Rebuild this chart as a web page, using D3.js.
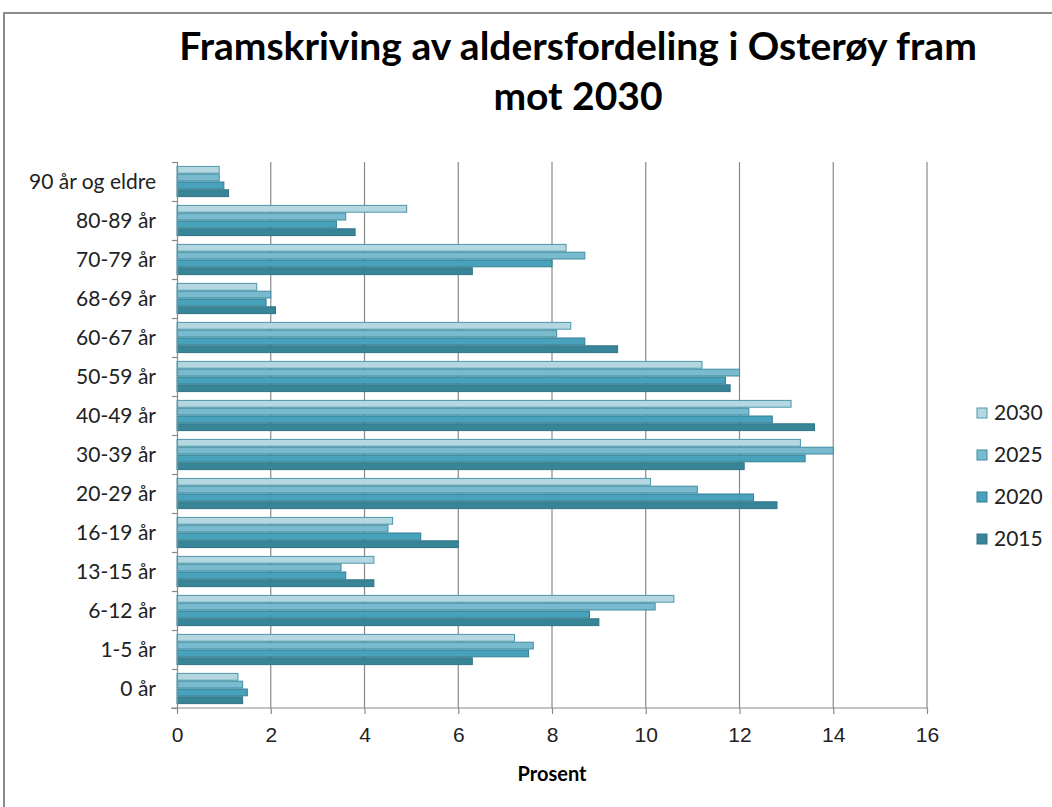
<!DOCTYPE html>
<html lang="no">
  <head>
    <meta charset="UTF-8" />
    <title>Framskriving av aldersfordeling i Osterøy</title>
    <script src="https://d3js.org/d3.v7.min.js"></script>
    <style>
      body {
        margin: 0;
        background: white;
        font-family: Lato, "Open Sans", sans-serif;
      }
      .frame {
        fill: none;
        stroke: #8c8c8c;
        stroke-width: 2px;
      }
      .title {
        font-size: 39px;
        font-weight: bold;
        fill: #000;
      }
      .cat-label,
      .legend-label {
        font-size: 21px;
        fill: #222;
      }
      .tick-label {
        font-size: 21px;
        fill: #222;
      }
      .axis-title {
        font-size: 20px;
        font-weight: bold;
      }
    </style>
  </head>
  <body>
    <div id="chart"></div>
    <script>
      const categories = [
        "90 år og eldre",
        "80-89 år",
        "70-79 år",
        "68-69 år",
        "60-67 år",
        "50-59 år",
        "40-49 år",
        "30-39 år",
        "20-29 år",
        "16-19 år",
        "13-15 år",
        "6-12 år",
        "1-5 år",
        "0 år",
      ];
      const years = ["2030", "2025", "2020", "2015"];
      const values2030 = [0.9, 4.9, 8.3, 1.7, 8.4, 11.2, 13.1, 13.3, 10.1, 4.6, 4.2, 10.6, 7.2, 1.3];
      const values2025 = [0.9, 3.6, 8.7, 2.0, 8.1, 12.0, 12.2, 14.0, 11.1, 4.5, 3.5, 10.2, 7.6, 1.4];
      const values2020 = [1.0, 3.4, 8.0, 1.9, 8.7, 11.7, 12.7, 13.4, 12.3, 5.2, 3.6, 8.8, 7.5, 1.5];
      const values2015 = [1.1, 3.8, 6.3, 2.1, 9.4, 11.8, 13.6, 12.1, 12.8, 6.0, 4.2, 9.0, 6.3, 1.4];
      const xTicks = [0, 2, 4, 6, 8, 10, 12, 14, 16];

      const seriesValues = {
        2030: values2030,
        2025: values2025,
        2020: values2020,
        2015: values2015,
      };
      const fills = {
        2030: "#b5d7e2",
        2025: "#79bace",
        2020: "#48a2bb",
        2015: "#378597",
      };
      const strokes = {
        2030: "#4d97aa",
        2025: "#3e8da2",
        2020: "#337f93",
        2015: "#2f7486",
      };

      const W = 1052;
      const H = 807;
      const plot = { left: 177, right: 927, top: 162, bottom: 708 };

      const svg = d3
        .select("#chart")
        .append("svg")
        .attr("width", W)
        .attr("height", H);

      svg
        .append("rect")
        .attr("class", "frame")
        .attr("x", 4)
        .attr("y", 13)
        .attr("width", W + 10)
        .attr("height", H + 10);

      const title = svg
        .append("text")
        .attr("class", "title")
        .attr("text-anchor", "middle");
      title
        .append("tspan")
        .attr("x", 578)
        .attr("y", 60)
        .text("Framskriving av aldersfordeling i Osterøy fram");
      title.append("tspan").attr("x", 578).attr("y", 110).text("mot 2030");

      const x = d3.scaleLinear().domain([0, 16]).range([plot.left, plot.right]);
      const y = d3
        .scaleBand()
        .domain(categories)
        .range([plot.top, plot.bottom])
        .paddingInner(0.2)
        .paddingOuter(0.1);
      const ySub = d3.scaleBand().domain(years).range([0, y.bandwidth()]);

      // gridlines
      svg
        .append("g")
        .selectAll("line")
        .data(xTicks.filter((t) => t > 0))
        .join("line")
        .attr("x1", (d) => x(d))
        .attr("x2", (d) => x(d))
        .attr("y1", plot.top)
        .attr("y2", plot.bottom)
        .attr("stroke", "#8a8a8a")
        .attr("stroke-width", 1.2);

      // bars
      const groups = svg
        .append("g")
        .selectAll("g")
        .data(categories)
        .join("g")
        .attr("transform", (d) => `translate(0,${y(d)})`);

      groups
        .selectAll("rect")
        .data((c, i) => years.map((yr) => ({ yr, v: seriesValues[yr][i] })))
        .join("rect")
        .attr("x", x(0))
        .attr("y", (d) => ySub(d.yr) + 0.5)
        .attr("width", (d) => x(d.v) - x(0))
        .attr("height", ySub.bandwidth() - 1)
        .attr("fill", (d) => fills[d.yr])
        .attr("stroke", (d) => strokes[d.yr])
        .attr("stroke-width", 1);

      // y axis
      const yAxis = svg
        .append("g")
        .attr("transform", `translate(${plot.left},0)`)
        .call(
          d3
            .axisLeft(d3.scaleLinear().domain([0, categories.length]).range([plot.top, plot.bottom]))
            .tickValues(d3.range(categories.length + 1))
            .tickSize(5)
            .tickFormat("")
        );
      yAxis.select(".domain").attr("stroke", "#8a8a8a").attr("stroke-width", 1.2);
      yAxis.selectAll(".tick line").attr("stroke", "#8a8a8a").attr("stroke-width", 1.2);

      svg
        .append("g")
        .selectAll("text")
        .data(categories)
        .join("text")
        .attr("class", "cat-label")
        .attr("x", 156)
        .attr("y", (d) => y(d) + y.bandwidth() / 2)
        .attr("dy", "0.35em")
        .attr("text-anchor", "end")
        .text((d) => d);

      // x axis
      const xAxis = svg
        .append("g")
        .attr("transform", `translate(0,${plot.bottom})`)
        .call(
          d3
            .axisBottom(x)
            .tickValues(xTicks)
            .tickSize(6)
            .tickSizeOuter(0)
            .tickPadding(13)
            .tickFormat(d3.format("d"))
        );
      xAxis
        .select(".domain")
        .attr("stroke", "#8a8a8a")
        .attr("stroke-width", 1.2)
        .attr("d", `M${plot.left - 6},0H${plot.right}`);
      xAxis.selectAll(".tick line").attr("stroke", "#8a8a8a").attr("stroke-width", 1.2);
      xAxis
        .selectAll(".tick text")
        .attr("class", "tick-label")
        .attr("font-family", null)
        .attr("font-size", null);

      svg
        .append("text")
        .attr("class", "axis-title")
        .attr("x", 552)
        .attr("y", 781)
        .attr("text-anchor", "middle")
        .text("Prosent");

      // legend
      const legend = svg
        .append("g")
        .selectAll("g")
        .data(years)
        .join("g")
        .attr("transform", (d, i) => `translate(977,${413 + i * 42})`);
      legend
        .append("rect")
        .attr("x", 0)
        .attr("y", -5)
        .attr("width", 10)
        .attr("height", 10)
        .attr("fill", (d) => fills[d])
        .attr("stroke", (d) => strokes[d]);
      legend
        .append("text")
        .attr("class", "legend-label")
        .attr("x", 17)
        .attr("dy", "0.35em")
        .text((d) => d);
    </script>
  </body>
</html>
